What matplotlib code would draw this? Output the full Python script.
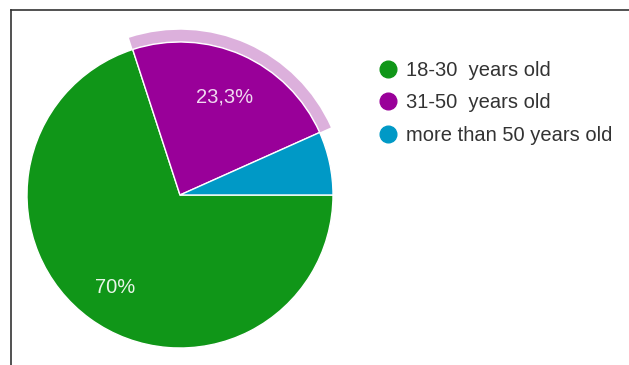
import numpy as np
import matplotlib.pyplot as plt
from matplotlib.lines import Line2D

labels = ['18-30  years old', '31-50  years old', 'more than 50 years old']
values = [70.0, 23.3, 6.7]
pct_text = ['70%', '23,3%', '']
colors = ['#109618', '#990099', '#0099c6']
ring_color = '#dcb0dc'

plt.rcParams['font.family'] = ['Liberation Sans', 'DejaVu Sans']

W, H = 629, 365
fig = plt.figure(figsize=(W / 100, H / 100), dpi=100)

# pie axes: centre (180,195) px, radius 153 px, limits +-1.1
r = 153
half = r * 1.1
ax = fig.add_axes([(180 - half) / W, (H - 195 - half) / H, 2 * half / W, 2 * half / H])

wedges, texts = ax.pie(values, colors=colors, startangle=0, counterclock=False,
                       radius=1, wedgeprops=dict(edgecolor='white', linewidth=1))
# highlight ring around the hovered slice
ax.pie(values, colors=['none', ring_color, 'none'], startangle=0, counterclock=False,
       radius=1.08, wedgeprops=dict(width=0.075, edgecolor='none'))
ax.set_xlim(-1.1, 1.1)
ax.set_ylim(-1.1, 1.1)
ax.axis('off')

start = 0.0
for v, t in zip(values, pct_text):
    mid = np.deg2rad(start - v / 100 * 360 / 2)
    start -= v / 100 * 360
    if t:
        ax.text(0.72 * np.cos(mid), 0.72 * np.sin(mid) - 0.02, t,
                color='#e8f5e8' if t == '70%' else '#f0d8f0',
                fontsize=14.5, ha='center', va='center')

handles = [Line2D([], [], marker='o', linestyle='none', markersize=12,
                  markerfacecolor=c, markeredgecolor=c) for c in colors]
fig.legend(handles, labels, loc='upper left', bbox_to_anchor=(360 / W, 1 - 45 / H),
           frameon=False, fontsize=14.5, labelspacing=0.66, handletextpad=0.3,
           handlelength=1.2, borderpad=0.3, labelcolor='#333333')

# frame lines on left and top
fig.add_artist(Line2D([11 / W, 11 / W], [0, 1 - 10 / H], color='#333333', linewidth=1.2))
fig.add_artist(Line2D([11 / W, 1], [1 - 10 / H, 1 - 10 / H], color='#333333', linewidth=1.2))

fig.savefig('out.png', dpi=100)
